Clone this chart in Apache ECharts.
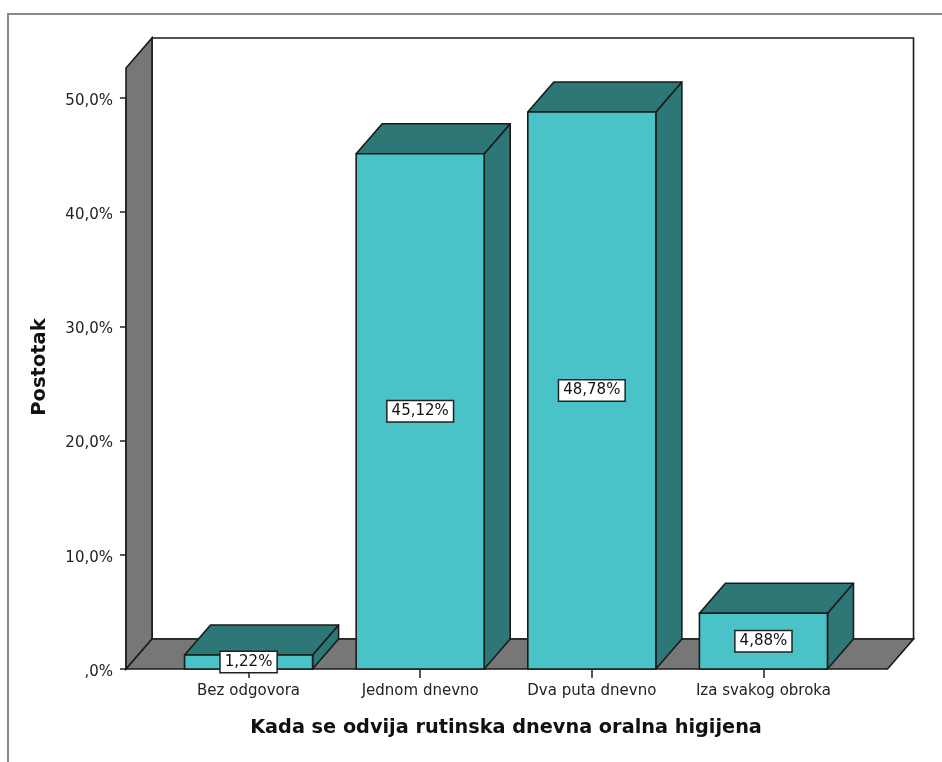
<!DOCTYPE html>
<html>
<head>
<meta charset="utf-8">
<script src="https://cdn.jsdelivr.net/npm/echarts@6/dist/echarts.min.js"></script>
<style>html,body{margin:0;padding:0;background:#fff}#c{width:942px;height:762px}</style>
</head>
<body>
<div id="c"></div>
<script>
const categories = ['Bez odgovora', 'Jednom dnevno', 'Dva puta dnevno', 'Iza svakog obroka'];
const values = [1.22, 45.12, 48.78, 4.88];
const yTicks = [0, 10, 20, 30, 40, 50];
const xTitle = 'Kada se odvija rutinska dnevna oralna higijena';
const yTitle = 'Postotak';

const DX = 26, DY = -30;
const FRONT = '#49C3C7', DARK = '#2D7777', WALL = '#777777', EDGE = '#1a1a1a';
const FONT = '"DejaVu Sans", Verdana, sans-serif';

function fmt(v) {
  const s = v.toFixed(1).replace('.', ',');
  return (s.startsWith('0,') ? s.slice(1) : s) + '%';
}
function fmt2(v) { return v.toFixed(2).replace('.', ',') + '%'; }

const chart = echarts.init(document.getElementById('c'), null, {renderer: 'canvas'});

function renderWalls(params, api) {
  const c0 = api.coord([0, 0]);
  const bw = api.size([1, 0])[0];
  const base = c0[1];
  const top50 = api.coord([0, 50])[1];
  const unit = (base - top50) / 50;
  const xl = c0[0] - 0.714 * bw;
  const xr = c0[0] + 3.723 * bw;
  const yTop = base - 52.63 * unit;
  const st = {stroke: EDGE, lineWidth: 1.6};
  return {
    type: 'group',
    children: [
      {type: 'rect', shape: {x: xl + DX, y: yTop + DY, width: xr - xl, height: base - yTop},
        style: Object.assign({fill: '#fff'}, st)},
      {type: 'polygon', shape: {points: [[xl, base], [xl, yTop], [xl + DX, yTop + DY], [xl + DX, base + DY]]},
        style: Object.assign({fill: WALL}, st)},
      {type: 'polygon', shape: {points: [[xl, base], [xr, base], [xr + DX, base + DY], [xl + DX, base + DY]]},
        style: Object.assign({fill: WALL}, st)}
    ]
  };
}

function renderBar(params, api) {
  const i = api.value(0);
  const v = api.value(1);
  const p = api.coord([i, v]);
  const b = api.coord([i, 0]);
  const bw = api.size([1, 0])[0] * 0.746;
  const x0 = p[0] - bw / 2, x1 = p[0] + bw / 2;
  const yt = p[1], yb = b[1];
  const st = {stroke: EDGE, lineWidth: 1.6, lineJoin: 'round'};
  return {
    type: 'group',
    children: [
      {type: 'polygon', shape: {points: [[x1, yt], [x1 + DX, yt + DY], [x1 + DX, yb + DY], [x1, yb]]},
        style: Object.assign({fill: DARK}, st)},
      {type: 'polygon', shape: {points: [[x0, yt], [x1, yt], [x1 + DX, yt + DY], [x0 + DX, yt + DY]]},
        style: Object.assign({fill: DARK}, st)},
      {type: 'rect', shape: {x: x0, y: yt, width: bw, height: yb - yt},
        style: Object.assign({fill: FRONT}, st)},
      {type: 'text', x: p[0], y: (yt + yb) / 2,
        style: {text: fmt2(v), align: 'center', verticalAlign: 'middle',
          font: '15px ' + FONT, fill: '#111',
          backgroundColor: '#fff', borderColor: '#222', borderWidth: 1.5, padding: [3, 4, 2, 4]}}
    ]
  };
}

chart.setOption({
  animation: false,
  backgroundColor: '#fff',
  grid: {left: 162.75, right: 92.75, top: 98, bottom: 93},
  xAxis: {
    type: 'category', data: categories,
    axisLine: {show: false},
    axisTick: {show: true, interval: 0, alignWithLabel: true, length: 9, lineStyle: {color: '#222', width: 1.5}},
    axisLabel: {interval: 0, hideOverlap: false, margin: 15, fontSize: 15, color: '#222', fontFamily: FONT},
    name: xTitle, nameLocation: 'middle', nameGap: 49,
    nameTextStyle: {fontSize: 19.3, fontWeight: 'bold', color: '#111', fontFamily: FONT}
  },
  yAxis: {
    type: 'value', min: 0, max: 50, interval: 10, offset: 36.75,
    axisLine: {show: true, lineStyle: {color: EDGE, width: 1.6}},
    axisTick: {show: true, length: 6, lineStyle: {color: '#222', width: 1.5}},
    axisLabel: {margin: 13, color: '#222',
      formatter: function (v) { return '{a|' + fmt(v) + '}'; },
      rich: {a: {fontSize: 15, color: '#222', fontFamily: FONT, padding: [6, 0, 0, 0]}},
      customValues: yTicks},
    splitLine: {show: false}
  },
  graphic: [
    {type: 'rect', shape: {x: 8, y: 14, width: 960, height: 800}, style: {fill: 'none', stroke: '#8a8a8a', lineWidth: 2}, z: -10},
    {type: 'text', x: 40, y: 367, rotation: Math.PI / 2,
      style: {text: yTitle, align: 'center', verticalAlign: 'middle', fill: '#111',
        font: 'bold 19.5px ' + FONT}}
  ],
  series: [
    {type: 'custom', renderItem: renderWalls, data: [[0, 0]], clip: false, silent: true, z: 1},
    {type: 'custom', renderItem: renderBar, data: values.map((v, i) => [i, v]), clip: false, z: 2}
  ]
});
</script>
</body>
</html>
